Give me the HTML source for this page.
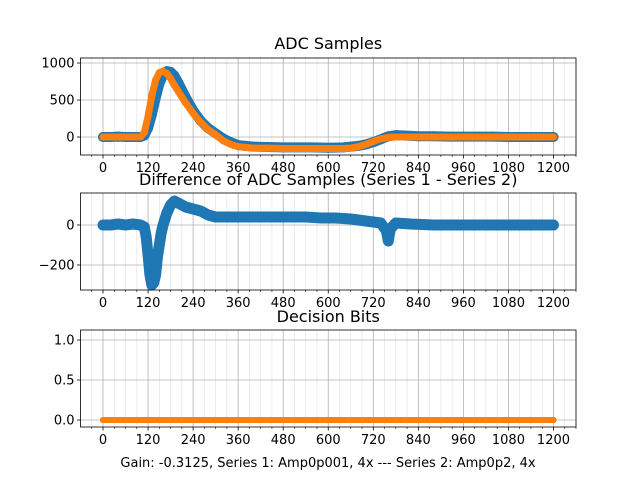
<!DOCTYPE html>
<html><head><meta charset="utf-8"><style>
body{margin:0;background:#fff}
svg text{font-family:"DejaVu Sans","Liberation Sans",sans-serif}
</style></head><body>
<svg id="fig" width="640" height="480" xmlns="http://www.w3.org/2000/svg"></svg>
<script>
const xs = [0,20,40,60,80,100,110,120,130,140,150,160,170,180,190,200,220,240,260,280,300,320,340,360,400,440,480,520,560,600,640,660,680,700,720,740,760,780,800,840,880,920,960,1000,1040,1080,1120,1160,1200];
const series1 = [0,0,5,0,0,0,20,120,300,520,720,840,890,880,830,740,540,360,220,120,50,-20,-70,-110,-130,-135,-140,-140,-140,-145,-140,-130,-120,-100,-70,-30,10,25,20,10,10,5,5,5,5,0,0,0,0];
const series2 = [0,0,0,0,0,0,60,280,560,770,870,890,860,790,700,620,460,320,200,100,30,-50,-100,-130,-150,-150,-155,-155,-155,-155,-155,-150,-130,-100,-60,-25,-5,0,0,0,0,0,0,0,0,0,0,0,0];
const diffX = [0,20,40,60,80,100,110,115,120,125,130,135,140,145,150,155,160,170,180,190,200,220,240,260,280,300,340,380,420,460,500,540,580,620,660,700,740,755,760,765,780,820,880,940,1000,1060,1120,1200];
const diffY = [0,0,5,0,5,0,-10,-60,-150,-250,-300,-290,-250,-160,-100,-40,0,60,100,120,110,90,80,70,50,40,40,40,40,40,40,40,35,35,30,20,10,-30,-80,-20,10,5,0,0,0,0,0,0];
const bitsX = [0,100,200,300,400,500,600,700,800,900,1000,1100,1200];
const bitsY = [0,0,0,0,0,0,0,0,0,0,0,0,0];
const xTicks = [0,120,240,360,480,600,720,840,960,1080,1200];

const NS="http://www.w3.org/2000/svg", fig=document.getElementById('fig');
function mk(t,a,p){const e=document.createElementNS(NS,t);for(const k in a)e.setAttribute(k,a[k]);(p||fig).appendChild(e);return e;}
const L=80.5,R=576,X0=-60,X1=1260;
const sx=v=>L+(v-X0)/(X1-X0)*(R-L);
function axes(name,top,bot,y0,y1,yTicks,yLabels,title,titleY){
  const g=mk('g',{});
  
  
  const sy=v=>bot-(v-y0)/(y1-y0)*(bot-top);
  for(let v=-30;v<=1260;v+=30){ if(v%120===0)continue; const x=sx(v); if(x<L||x>R)continue;
    const m=mk('line',{x1:x,x2:x,y1:top,y2:bot,stroke:'#e0e0e0','stroke-width':0.6},g);
    
    
    const mt=mk('line',{x1:x,x2:x,y1:bot,y2:bot+2,stroke:'#000','stroke-width':0.6},g);
    
    
  }
  xTicks.forEach(v=>{const x=sx(v);
    const gl=mk('line',{x1:x,x2:x,y1:top,y2:bot,stroke:'#b0b0b0','stroke-width':0.8},g);
    
    
    mk('line',{x1:x,x2:x,y1:bot,y2:bot+3.5,stroke:'#000','stroke-width':0.8},g);
    const t=mk('text',{x:x,y:bot+17,'font-size':13,'text-anchor':'middle'},g);t.textContent=v;
    
    
  });
  yTicks.forEach((v,i)=>{const y=sy(v);
    const gl=mk('line',{x1:L,x2:R,y1:y,y2:y,stroke:'#b0b0b0','stroke-width':0.8},g);
    
    
    mk('line',{x1:L-3.5,x2:L,y1:y,y2:y,stroke:'#000','stroke-width':0.8},g);
    const t=mk('text',{x:L-6,y:y+4.5,'font-size':13,'text-anchor':'end'},g);t.textContent=yLabels[i];
    
    
  });
  const tt=mk('text',{x:(L+R)/2,y:titleY,'font-size':16,'text-anchor':'middle'},g);tt.textContent=title;
  
  
  return {g,sy,top,bot};
}
function series(ax,X,Y,color,w,r,name){
  const g=mk('g',{},ax.g);
  
  
  const pts=X.map((x,i)=>sx(x)+','+ax.sy(Y[i])).join(' ');
  mk('polyline',{points:pts,fill:'none',stroke:color,'stroke-width':w,'stroke-linejoin':'round','stroke-linecap':'round'},g);
  X.forEach((x,i)=>{const c=mk('circle',{cx:sx(x),cy:ax.sy(Y[i]),r:r,fill:color},g);
    
    });
}
function frame(ax){const f=mk('rect',{x:L,y:ax.top,width:R-L,height:ax.bot-ax.top,fill:'none',stroke:'#000','stroke-width':0.8},ax.g);
  
  }

const a1=axes('adc-samples-axes',58,155,-243,1068,[0,500,1000],['0','500','1000'],'ADC Samples',49);
series(a1,xs,series1,'#1f77b4',10,5,'series-1');
series(a1,xs,series2,'#ff7f0e',7,3.5,'series-2');
frame(a1);
const a2=axes('difference-axes',193,290,-325,160,[-200,0],['\u2212200','0'],'Difference of ADC Samples (Series 1 - Series 2)',185);
series(a2,diffX,diffY,'#1f77b4',11,5,'difference-series');
frame(a2);
const a3=axes('decision-bits-axes',330,427,-0.0875,1.125,[0,0.5,1],['0.0','0.5','1.0'],'Decision Bits',322);
series(a3,bitsX,bitsY,'#1f77b4',6,3,'bits-series-1');
series(a3,bitsX,bitsY,'#ff7f0e',6,3,'bits-series-2');
frame(a3);
const xl=mk('text',{x:328,y:467,'font-size':13,'text-anchor':'middle'});
xl.textContent='Gain: -0.3125, Series 1: Amp0p001, 4x --- Series 2: Amp0p2, 4x';


</script>
</body></html>
